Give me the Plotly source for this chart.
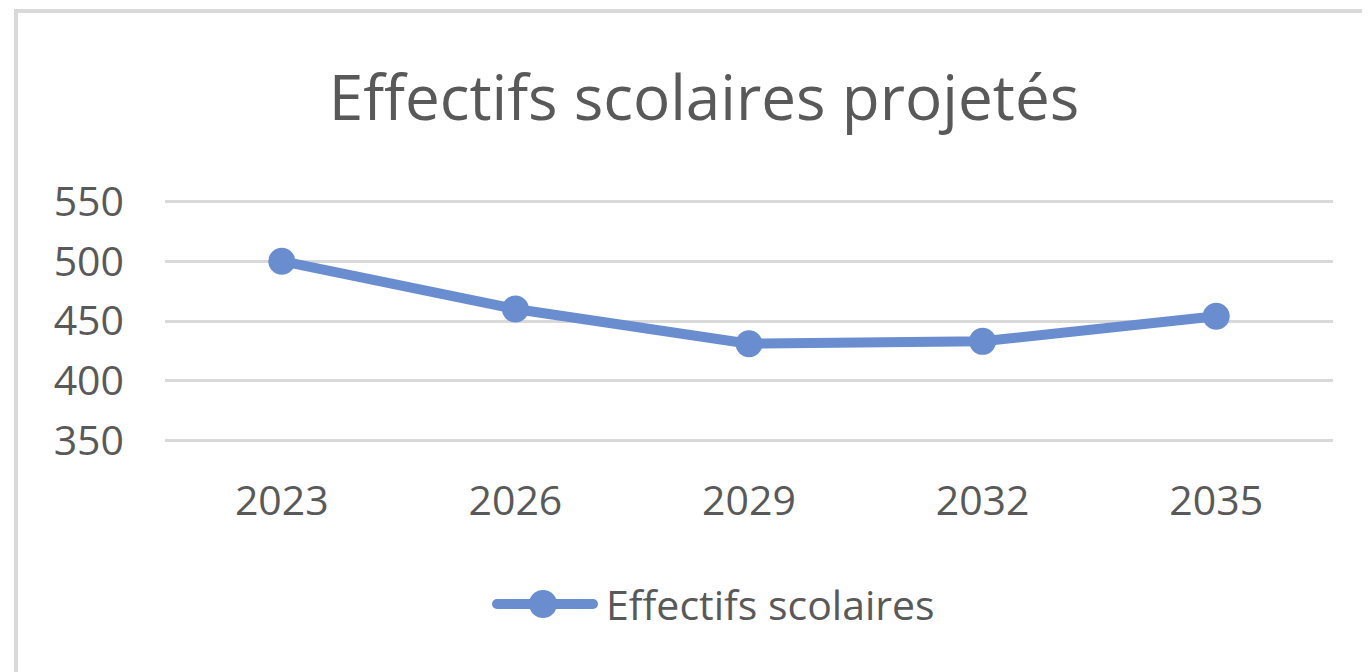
import plotly.graph_objects as go

years = ["2023", "2026", "2029", "2032", "2035"]
effectifs = [500, 460, 431, 433, 454]
y_ticks = [350, 400, 450, 500, 550]
series_name = "Effectifs scolaires"

TEXT = "#595959"
GRID = "#d9d9d9"
BLUE = "#6a8dd0"
FONT = "Open Sans"

# figure geometry (the page adds an 8px body margin)
W, H = 1370, 672
ML, MR, MT, MB = 157, 45, 191, 237
PW, PH = W - ML - MR, H - MT - MB
OFF = 8


def px_x(page_x):
    return (page_x - OFF - ML) / PW


def px_y(page_y):
    return (H - MB - (page_y - OFF)) / PH


fig = go.Figure()
fig.add_trace(go.Scatter(
    x=years, y=effectifs, name=series_name,
    mode="lines+markers",
    line=dict(color=BLUE, width=10),
    marker=dict(color=BLUE, size=27),
    showlegend=False,
))

# Excel-style legend: long line with a big marker
leg_y = px_y(604)
shapes = [
    dict(type="rect", xref="paper", yref="paper",
         x0=px_x(16), x1=1.3, y0=-1.5, y1=px_y(11),
         line=dict(color=GRID, width=4), fillcolor="rgba(0,0,0,0)", layer="below"),
    dict(type="line", xref="paper", yref="paper",
         x0=px_x(497), x1=px_x(593), y0=leg_y, y1=leg_y,
         line=dict(color=BLUE, width=10)),
]
for cx, r in [(497, 5), (593, 5), (543, 14)]:
    shapes.append(dict(type="circle", xref="paper", yref="paper",
                       xsizemode="pixel", ysizemode="pixel",
                       xanchor=px_x(cx), yanchor=leg_y,
                       x0=-r, x1=r, y0=-r, y1=r,
                       fillcolor=BLUE, line=dict(width=0)))

fig.update_layout(
    width=W, height=H,
    margin=dict(l=ML, r=MR, t=MT, b=MB),
    paper_bgcolor="white", plot_bgcolor="white",
    font=dict(family=FONT, color=TEXT, size=41),
    title=dict(text="Effectifs scolaires projetés", x=(704 - OFF) / W, xanchor="center",
               y=1 - (98 - OFF) / H, yanchor="middle",
               font=dict(size=62, color=TEXT, family=FONT)),
    showlegend=False,
    shapes=shapes,
    annotations=[dict(text=series_name, xref="paper", yref="paper",
                      x=px_x(604), y=leg_y, xanchor="left", yanchor="middle",
                      showarrow=False, font=dict(size=41, color=TEXT, family=FONT))],
)

fig.update_xaxes(type="category", range=[-0.5, 4.5], showgrid=False, zeroline=False,
                 showline=False, ticks="", ticklabelstandoff=30,
                 tickfont=dict(size=41, color=TEXT))
fig.update_yaxes(range=[348, 552], tickvals=y_ticks, showgrid=True, gridcolor=GRID,
                 gridwidth=3, zeroline=False, showline=False, ticks="",
                 ticklabelstandoff=40, tickfont=dict(size=41, color=TEXT))

fig.write_html("out.html")
